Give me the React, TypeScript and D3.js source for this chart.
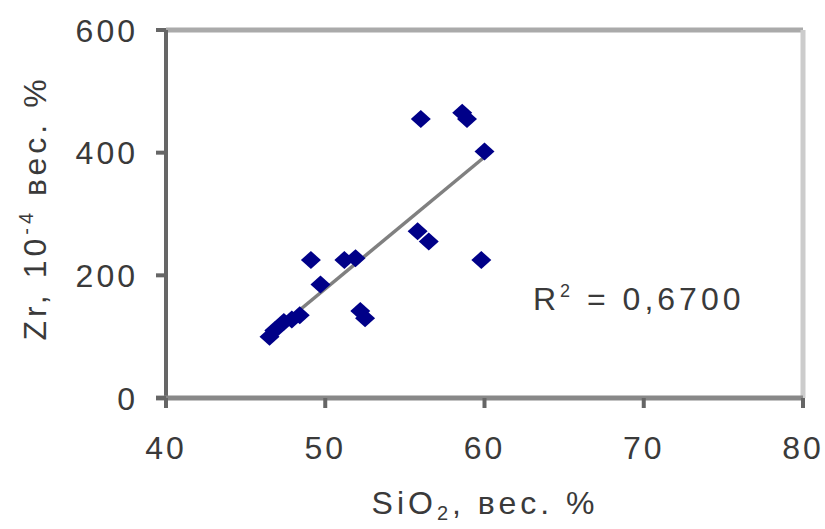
import React from "react";
import * as d3 from "d3";

const sio2: number[] = [46.5, 46.8, 47.4, 47.9, 48.4, 49.1, 49.7, 51.2, 51.9, 52.2, 52.5, 56.0, 55.8, 56.5, 58.6, 58.9, 59.8, 60.0];
const zr: number[] = [100, 110, 124, 128, 135, 225, 185, 225, 228, 142, 130, 455, 272, 255, 465, 455, 225, 402];
const xTicks: number[] = [40, 50, 60, 70, 80];
const yTicks: number[] = [0, 200, 400, 600];
const r2Label = "0,6700";

const W = 825, H = 529;
const L = 166, R = 803, T = 30, B = 398;
const FONT = "'Liberation Sans', Arial, sans-serif";
const TXT = "#3a3a3a";

export default function App() {
  const x = d3.scaleLinear().domain([40, 80]).range([L, R]);
  const y = d3.scaleLinear().domain([0, 600]).range([B, T]);

  const mx = d3.mean(sio2)!, my = d3.mean(zr)!;
  let sxy = 0, sxx = 0;
  sio2.forEach((v, i) => { sxy += (v - mx) * (zr[i] - my); sxx += (v - mx) * (v - mx); });
  const slope = sxy / sxx, icpt = my - slope * mx;
  const [x0, x1] = d3.extent(sio2) as [number, number];

  const p = d3.path();
  p.moveTo(0, -9); p.lineTo(10, 0); p.lineTo(0, 9); p.lineTo(-10, 0); p.closePath();
  const marker = p.toString();

  return (
    <svg width={W} height={H} style={{ position: "absolute", left: 0, top: 0, background: "#fff" }}>
      <rect x={0} y={0} width={W} height={H} fill="#fff" />
      {/* plot frame */}
      <line x1={L} x2={R} y1={T} y2={T} stroke="#aaa" strokeWidth={5} />
      <line x1={R} x2={R} y1={T} y2={B} stroke="#ccc" strokeWidth={5} />
      {/* axes */}
      <line x1={L} x2={L} y1={T} y2={B + 10} stroke="#666" strokeWidth={4} />
      <line x1={L - 10} x2={R} y1={B} y2={B} stroke="#888" strokeWidth={5} />
      {yTicks.map(t => (
        <g key={"y" + t}>
          <line x1={L - 10} x2={L} y1={y(t)} y2={y(t)} stroke="#666" strokeWidth={4} />
          <text x={138} y={y(t)} dy="0.36em" textAnchor="end" fontFamily={FONT} fontSize={32} letterSpacing={3} fill={TXT}>{t}</text>
        </g>
      ))}
      {xTicks.map(t => (
        <g key={"x" + t}>
          <line x1={x(t)} x2={x(t)} y1={B} y2={B + 10} stroke="#666" strokeWidth={4} />
          <text x={x(t)} y={459} textAnchor="middle" fontFamily={FONT} fontSize={32} letterSpacing={3} fill={TXT}>{t}</text>
        </g>
      ))}
      {/* trend line */}
      <line x1={x(x0)} y1={y(icpt + slope * x0)} x2={x(x1)} y2={y(icpt + slope * x1)} stroke="#808080" strokeWidth={3.5} />
      {/* points */}
      {sio2.map((v, i) => (
        <path key={i} d={marker} transform={`translate(${x(v)},${y(zr[i])})`} fill="#000088" />
      ))}
      {/* R2 */}
      <text x={533} y={310} fontFamily={FONT} fontSize={32} letterSpacing={4} fill={TXT}>
        R<tspan fontSize={18} dy={-13}>2</tspan><tspan dy={13}> = {r2Label}</tspan>
      </text>
      {/* x label */}
      <text x={485} y={514} textAnchor="middle" fontFamily={FONT} fontSize={32} letterSpacing={4} fill={TXT}>
        SiO<tspan fontSize={20} dy={6}>2</tspan><tspan dy={-6}>, вес. %</tspan>
      </text>
      {/* y label */}
      <text transform={`translate(46,208) rotate(-90)`} textAnchor="middle" fontFamily={FONT} fontSize={32} letterSpacing={4} fill={TXT}>
        Zr, 10<tspan fontSize={20} dy={-13}>-4</tspan><tspan dy={13}> вес. %</tspan>
      </text>
    </svg>
  );
}
